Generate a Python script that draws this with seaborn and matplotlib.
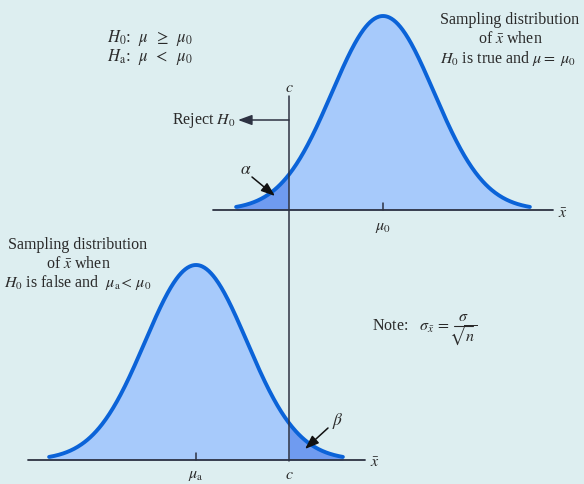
import numpy as np
import pandas as pd
import matplotlib
matplotlib.use("Agg")
import matplotlib.pyplot as plt
import seaborn as sns

# ---- data (diagram units = pixel-like x̄ scale) ----
curve_names = ["H0 true", "H0 false"]
curve_means = [383, 196]          # mu0, mua
curve_sd = [51, 51]
curve_baselines = [210, 460]
curve_peaks = [194, 195]
curve_halfspan_sd = [2.88, 2.88]
critical_c = 289
tail_side = ["left", "right"]      # alpha tail / beta tail

sns.set_theme(style="white")
plt.rcParams["font.family"] = ["Liberation Serif", "DejaVu Serif"]
plt.rcParams["mathtext.fontset"] = "stix"

BG = "#ddeef0"
FILL = "#a7cafb"
TAIL = "#6f9bf0"
LINE = "#0b63d8"
DARK = "#2d3242"
TXT = "#2a2a2a"

fig = plt.figure(figsize=(5.84, 4.84), dpi=100, facecolor=BG)
ax = fig.add_axes([0, 0, 1, 1])
ax.set_facecolor(BG)
ax.set_xlim(0, 584)
ax.set_ylim(484, 0)
ax.axis("off")

rows = []
for name, m, s, b, p, hs in zip(curve_names, curve_means, curve_sd,
                                curve_baselines, curve_peaks, curve_halfspan_sd):
    xs = np.linspace(m - hs * s, m + hs * s, 400)
    ys = b - p * np.exp(-0.5 * ((xs - m) / s) ** 2)
    rows.append(pd.DataFrame({"x": xs, "y": ys, "curve": name}))
df = pd.concat(rows, ignore_index=True)

for name, b, side in zip(curve_names, curve_baselines, tail_side):
    d = df[df.curve == name]
    ax.fill_between(d.x, d.y, b, color=FILL, lw=0, zorder=1)
    mask = d.x <= critical_c if side == "left" else d.x >= critical_c
    ax.fill_between(d.x[mask], d.y[mask], b, color=TAIL, lw=0, zorder=1)

sns.lineplot(data=df, x="x", y="y", units="curve", estimator=None,
             color=LINE, lw=2.8, ax=ax, zorder=3, sort=False)

# axes lines
ax.plot([213, 553], [curve_baselines[0]] * 2, color=DARK, lw=1.3, zorder=4)
ax.plot([28, 365], [curve_baselines[1]] * 2, color=DARK, lw=1.3, zorder=4)
ax.plot([critical_c, critical_c], [96, curve_baselines[1] + 1], color=DARK, lw=1.1, zorder=4)
# ticks at means
for m, b in zip(curve_means, curve_baselines):
    ax.plot([m, m], [b - 7, b], color=DARK, lw=1.1, zorder=4)

fs = 11.5
ax.text(563, 214, r"$\bar{x}$", ha="center", va="center", fontsize=fs, color=TXT)
ax.text(375, 463, r"$\bar{x}$", ha="center", va="center", fontsize=fs, color=TXT)
ax.text(curve_means[0], 227, r"$\mu_0$", ha="center", va="center", fontsize=fs, color=TXT)
ax.text(curve_means[1], 475, r"$\mu_{\rm a}$", ha="center", va="center", fontsize=fs, color=TXT)
ax.text(critical_c, 475, r"$c$", ha="center", va="center", fontsize=fs, color=TXT)
ax.text(critical_c, 88, r"$c$", ha="center", va="center", fontsize=fs, color=TXT)

ax.text(107, 38, r"$H_0$:  $\mu\;\;\geq\;\;\mu_0$", ha="left", va="center", fontsize=fs + 0.5, color=TXT)
ax.text(107, 57, r"$H_{\rm a}$:  $\mu\;\;<\;\;\mu_0$", ha="left", va="center", fontsize=fs + 0.5, color=TXT)

ax.text(510, 20, "Sampling distribution", ha="center", va="center", fontsize=fs, color=TXT)
ax.text(510, 39, r"of $\bar{x}$ when", ha="center", va="center", fontsize=fs, color=TXT)
ax.text(508, 58, r"$H_0$ is true and $\mu =\ \mu_0$", ha="center", va="center", fontsize=fs, color=TXT)

ax.text(78, 245, "Sampling distribution", ha="center", va="center", fontsize=fs, color=TXT)
ax.text(78, 264, r"of $\bar{x}$ when", ha="center", va="center", fontsize=fs, color=TXT)
ax.text(78, 283, r"$H_0$ is false and  $\mu_{\rm a}\!<\,\mu_0$", ha="center", va="center", fontsize=fs, color=TXT)

# Note with stacked fraction
ax.text(372, 326, r"Note:   $\sigma_{\bar{x}}\,=$", ha="left", va="center", fontsize=fs, color=TXT)
ax.text(463, 317, r"$\sigma$", ha="center", va="center", fontsize=fs, color=TXT)
ax.plot([454, 473], [326, 326], color=TXT, lw=0.8)
ax.text(463, 336, r"$\sqrt{n}$", ha="center", va="center", fontsize=fs, color=TXT)

ax.text(236, 121, r"Reject $H_0$", ha="right", va="center", fontsize=fs, color=TXT)
ax.annotate("", xy=(238, 120), xytext=(critical_c, 120),
            arrowprops=dict(arrowstyle="-|>,head_length=0.6,head_width=0.22", color=DARK, lw=1.1,
                            mutation_scale=14, shrinkA=0, shrinkB=0), zorder=5)

ax.text(246, 170, r"$\alpha$", ha="center", va="center", fontsize=fs + 1, color=TXT)
ax.annotate("", xy=(275, 196), xytext=(252, 177),
            arrowprops=dict(arrowstyle="-|>,head_length=0.6,head_width=0.22", color="#111111", lw=1.1,
                            mutation_scale=14, shrinkA=0, shrinkB=0), zorder=5)
ax.text(338, 421, r"$\beta$", ha="center", va="center", fontsize=fs + 1, color=TXT)
ax.annotate("", xy=(305, 449), xytext=(328, 428),
            arrowprops=dict(arrowstyle="-|>,head_length=0.6,head_width=0.22", color="#111111", lw=1.1,
                            mutation_scale=14, shrinkA=0, shrinkB=0), zorder=5)

fig.savefig("out.png", dpi=100, facecolor=BG)
